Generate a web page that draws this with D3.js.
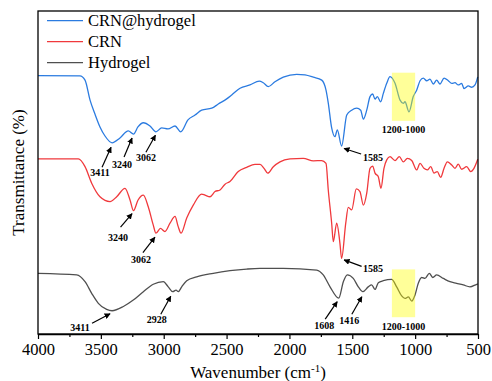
<!DOCTYPE html>
<html>
<head>
<meta charset="utf-8">
<script src="https://cdn.jsdelivr.net/npm/d3@7"></script>
<style>
  html, body { margin: 0; padding: 0; background: #fff; }
  svg { display: block; font-family: "Liberation Serif", "Times New Roman", serif; }
</style>
</head>
<body>
<svg id="chart" width="492" height="381"></svg>
<script>
// FTIR spectra: wavenumber (cm-1) and transmittance (offset, arbitrary %)
const seriesNames = ["CRN@hydrogel", "CRN", "Hydrogel"];
const seriesColors = ["#2b7be0", "#f0393c", "#4f4f4f"];

const hydrogelCrnWn = [4000,3666,3626,3586,3547,3507,3467,3411,3348,3282,3240,3205,3162,3109,3062,3016,2966,2910,2865,2807,2751,2698,2618,2566,2499,2459,2393,2314,2240,2208,2168,2115,2049,1942,1876,1810,1743,1709,1691,1664,1638,1619,1585,1544,1505,1465,1433,1412,1385,1359,1338,1319,1301,1274,1253,1226,1200,1160,1120,1094,1081,1049,1015,988,961,935,908,882,856,829,802,770,736,709,683,657,630,611,577,550,524,502];
const hydrogelCrnT  = [80.0,79.9,78.6,72.4,68.1,64.1,61.3,59.2,60.7,62.9,61.9,64.1,65.4,64.4,62.6,63.8,63.5,64.4,62.6,66.3,67.8,69.3,69.9,71.2,72.8,74.0,76.1,77.1,78.3,77.8,76.6,78.1,79.5,80.4,80.2,79.5,78.6,75.5,71.5,63.8,61.1,63.2,58.2,67.8,69.3,69.9,69.3,66.5,69.3,73.5,74.3,72.7,73.5,71.9,74.5,77.6,79.7,77.6,72.4,71.4,71.9,68.8,73.5,75.5,78.4,79.2,78.4,78.9,77.4,78.6,77.4,79.2,78.4,77.6,77.8,77.1,77.6,76.0,76.8,76.4,77.1,79.6];

const crnWn = [4000,3679,3626,3573,3507,3427,3374,3308,3268,3240,3205,3162,3123,3083,3062,3026,2990,2950,2910,2886,2862,2817,2765,2698,2672,2632,2592,2552,2512,2473,2407,2340,2274,2234,2202,2173,2128,2075,1995,1890,1810,1743,1709,1691,1664,1651,1624,1598,1585,1552,1532,1505,1468,1439,1412,1385,1359,1338,1319,1293,1272,1248,1226,1200,1160,1126,1094,1062,1027,988,961,930,903,876,850,824,797,770,744,709,683,657,630,590,558,532,502];
const crnT  = [54.2,54.2,51.8,46.7,42.5,41.0,42.5,45.1,41.5,38.2,41.4,43.0,39.4,33.7,31.2,32.7,31.7,34.3,36.4,33.4,31.2,35.9,39.9,43.3,43.0,42.5,44.1,44.6,46.4,47.2,50.3,51.6,52.5,52.5,51.3,49.8,51.8,53.3,54.2,54.4,53.6,53.7,52.8,44.6,34.3,28.6,34.3,28.0,23.4,34.3,39.2,38.4,44.9,44.1,39.9,43.6,51.3,52.0,49.8,48.7,45.1,51.3,53.9,54.9,53.7,54.9,53.3,54.4,53.7,50.8,52.8,51.3,50.8,51.8,49.8,50.3,48.5,51.3,53.3,52.3,51.3,52.6,51.0,51.8,50.3,51.3,54.1];

const hydrogelWn = [4000,3692,3626,3573,3520,3454,3411,3321,3242,3162,3083,3003,2964,2928,2902,2884,2857,2817,2738,2606,2473,2340,2234,2049,1783,1731,1677,1608,1571,1540,1492,1452,1416,1373,1346,1319,1293,1253,1187,1147,1107,1081,1054,1027,1001,975,948,922,887,860,829,776,723,670,617,564,510,502];
const hydrogelT  = [18.8,18.3,16.2,12.6,9.5,7.6,7.2,8.5,10.5,13.1,15.4,16.2,14.6,13.1,13.6,13.1,14.6,16.5,17.7,18.8,19.6,20.1,20.3,20.3,19.8,18.3,14.6,11.1,16.2,18.3,17.2,14.6,13.1,14.6,15.2,13.8,15.9,16.5,16.9,14.6,11.8,11.0,11.5,10.2,12.1,15.7,17.5,17.2,18.8,17.5,18.3,17.2,16.2,15.7,15.2,14.6,15.4,15.5];

const xTicks = [4000,3500,3000,2500,2000,1500,1000,500];
const xMinorTicks = [3750,3250,2750,2250,1750,1250,750];

// peak annotations: series index, wavenumber, label
const peakSeries = [0,0,0,0, 1,1,1, 2,2,2,2];
const peakWn     = [3411,3240,3062,1585, 3240,3062,1585, 3411,2928,1608,1416];
const peakLabels = ["3411","3240","3062","1585","3240","3062","1585","3411","2928","1608","1416"];

// highlighted band (1200-1000) per series: wavenumber range and transmittance range
const bandSeries = [0, 2];
const bandWn = [[1185, 1000], [1185, 1000]];
const bandT = [[66.0, 80.9], [5.2, 20.0]];
const bandLabel = "1200-1000";

// ---- layout ----
const svg = d3.select("#chart");
const m = { left: 38, right: 478, top: 11, bottom: 334 };
const x = d3.scaleLinear().domain([4000, 500]).range([m.left, m.right]);
const y = d3.scaleLinear().domain([0, 100]).range([m.bottom, m.top]);

const series = [
  { wn: hydrogelCrnWn, t: hydrogelCrnT },
  { wn: crnWn, t: crnT },
  { wn: hydrogelWn, t: hydrogelT }
].map((s, i) => ({
  name: seriesNames[i], color: seriesColors[i],
  pts: s.wn.map((w, j) => [w, s.t[j]])
}));

const line = d3.line().x(d => x(d[0])).y(d => y(d[1])).curve(d3.curveMonotoneX);

svg.append("defs").append("marker")
  .attr("id", "arrow").attr("viewBox", "0 0 10 10")
  .attr("refX", 9).attr("refY", 5)
  .attr("markerWidth", 6).attr("markerHeight", 6)
  .attr("markerUnits", "userSpaceOnUse")
  .attr("orient", "auto")
  .append("path").attr("d", "M0,0 L10,5 L0,10 Z").attr("fill", "#000");

// spectra
svg.append("g").selectAll("path").data(series).join("path")
  .attr("d", d => line(d.pts))
  .attr("fill", "none")
  .attr("stroke", d => d.color)
  .attr("stroke-width", 1.3)
  .attr("stroke-linejoin", "round");

// highlighted 1200-1000 bands (translucent, over the lines)
bandSeries.forEach((s, i) => {
  svg.append("rect")
    .attr("x", x(bandWn[i][0]))
    .attr("width", x(bandWn[i][1]) - x(bandWn[i][0]))
    .attr("y", y(bandT[i][1]))
    .attr("height", y(bandT[i][0]) - y(bandT[i][1]))
    .attr("fill", "#ffff00").attr("fill-opacity", 0.4);
});

// annotation offsets (pixels): arrow tip from peak, tail from tip, label from tip
const annTip  = [[-1,4.5],[-1.5,4],[-0.5,3.5],[2.5,2.5], [-1.5,3],[-1,4],[2.5,1.5], [-2,3],[-2,4.5],[-1.5,3.5],[-1,5]];
const annTail = [[-9,20],[-8,19],[-9.5,17],[17,5.5], [-11.5,13.5],[-12,15.5],[17.5,6.5], [-18,9.5],[-10,18],[-12,17.5],[-10,17.5]];
const annLab  = [[-11,28.5],[-10,29.5],[-9.5,26],[29,12], [-14,27],[-14,26],[29,12.5], [-30,17],[-14,26.5],[-13,27],[-12.5,27]];

const ann = svg.append("g");
peakWn.forEach((w, i) => {
  const pts = series[peakSeries[i]].pts;
  const p = pts.reduce((a, b) => Math.abs(b[0] - w) < Math.abs(a[0] - w) ? b : a);
  const tx = x(w) + annTip[i][0], ty = y(p[1]) + annTip[i][1];
  ann.append("line")
    .attr("x1", tx + annTail[i][0]).attr("y1", ty + annTail[i][1])
    .attr("x2", tx).attr("y2", ty)
    .attr("stroke", "#000").attr("stroke-width", 1.2)
    .attr("marker-end", "url(#arrow)");
  ann.append("text")
    .attr("x", tx + annLab[i][0]).attr("y", ty + annLab[i][1])
    .attr("text-anchor", "middle")
    .attr("font-size", 10).attr("font-weight", "bold")
    .text(peakLabels[i]);
});

bandSeries.forEach((s, i) => {
  ann.append("text")
    .attr("x", (x(bandWn[i][0]) + x(bandWn[i][1])) / 2)
    .attr("y", y(bandT[i][0]) + 12.5)
    .attr("text-anchor", "middle")
    .attr("font-size", 10).attr("font-weight", "bold")
    .text(bandLabel);
});

// frame
svg.append("rect")
  .attr("x", m.left).attr("y", m.top)
  .attr("width", m.right - m.left).attr("height", m.bottom - m.top)
  .attr("fill", "none").attr("stroke", "#000").attr("stroke-width", 1.3);

// bottom axis: major and minor ticks
const xAxis = svg.append("g").attr("transform", `translate(0,${m.bottom})`)
  .call(d3.axisBottom(x).tickValues(xTicks).tickFormat(d3.format("d")).tickSize(5).tickSizeOuter(0).tickPadding(4));
xAxis.select(".domain").attr("stroke-width", 1.3);
xAxis.selectAll(".tick line").attr("stroke-width", 1.2);
xAxis.selectAll("text").attr("font-size", 16.5).attr("font-family", "Liberation Serif, serif").attr("fill", "#000");

const xMinor = svg.append("g").attr("transform", `translate(0,${m.bottom})`)
  .call(d3.axisBottom(x).tickValues(xMinorTicks).tickFormat("").tickSize(3).tickSizeOuter(0));
xMinor.select(".domain").remove();
xMinor.selectAll(".tick line").attr("stroke-width", 1.2);

// axis titles
const xt = svg.append("text")
  .attr("x", (m.left + m.right) / 2).attr("y", 378)
  .attr("text-anchor", "middle").attr("font-size", 17);
xt.append("tspan").text("Wavenumber (cm");
xt.append("tspan").attr("baseline-shift", "super").attr("font-size", 11).text("-1");
xt.append("tspan").text(")");

svg.append("text")
  .attr("transform", `translate(24,${(m.top + m.bottom) / 2}) rotate(-90)`)
  .attr("text-anchor", "middle").attr("font-size", 17)
  .text("Transmittance (%)");

// legend
const lg = svg.append("g");
series.forEach((s, i) => {
  const ly = 20.7 + i * 21;
  lg.append("line").attr("x1", 47).attr("x2", 83).attr("y1", ly).attr("y2", ly)
    .attr("stroke", s.color).attr("stroke-width", 1.3);
  lg.append("text").attr("x", 88).attr("y", ly + 5.5)
    .attr("font-size", 16.5).text(s.name);
});
</script>
</body>
</html>
